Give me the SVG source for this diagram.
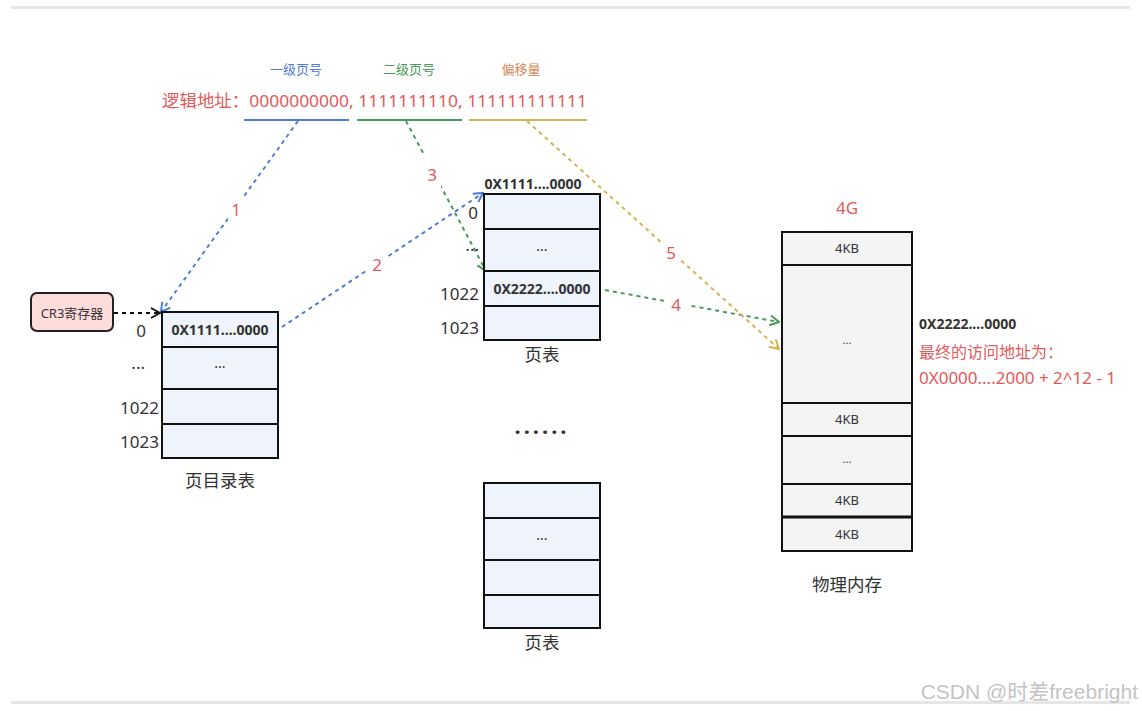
<svg xmlns="http://www.w3.org/2000/svg" width="1142" height="711" viewBox="0 0 1142 711">
<style>
text{font-family:"Noto Sans","Noto Sans CJK SC",sans-serif;fill:#333}
.cell{fill:#eef3fc;stroke:#111;stroke-width:2}
.mem{fill:#f4f4f4;stroke:#111;stroke-width:2}
.num{font-size:17px;text-anchor:end}
.cap{font-size:17.5px;text-anchor:middle}
.mid{text-anchor:middle}
.bold{font-weight:bold;font-size:14px}
.red{fill:#e05a5a}
.lbl{font-size:17px;text-anchor:middle;fill:#e05a5a}
.dash{fill:none;stroke-width:2;stroke-dasharray:4 4}
.bg{fill:#fff}
</style>
<defs>
<marker id="ab" viewBox="0 0 12 12" refX="11" refY="6" markerWidth="12" markerHeight="12" markerUnits="userSpaceOnUse" orient="auto"><path d="M2,1 L11,6 L2,11" fill="none" stroke="#4f7bd6" stroke-width="2"/></marker>
<marker id="ag" viewBox="0 0 12 12" refX="11" refY="6" markerWidth="12" markerHeight="12" markerUnits="userSpaceOnUse" orient="auto"><path d="M2,1 L11,6 L2,11" fill="none" stroke="#4a9a5c" stroke-width="2"/></marker>
<marker id="ay" viewBox="0 0 12 12" refX="11" refY="6" markerWidth="12" markerHeight="12" markerUnits="userSpaceOnUse" orient="auto"><path d="M2,1 L11,6 L2,11" fill="none" stroke="#d9b155" stroke-width="2"/></marker>
<marker id="ak" viewBox="0 0 12 12" refX="11" refY="6" markerWidth="12" markerHeight="12" markerUnits="userSpaceOnUse" orient="auto"><path d="M2,1 L11,6 L2,11" fill="none" stroke="#111" stroke-width="2"/></marker>
</defs>
<rect width="1142" height="711" fill="#fff"/>
<rect x="11" y="6" width="1119" height="3" fill="#e6e6e6"/>
<rect x="11" y="701" width="1119" height="3" fill="#e6e6e6"/>

<g id="logical-address">
<text x="296" y="74" class="mid" font-size="13" style="fill:#4f7bd6">一级页号</text>
<text x="409" y="74" class="mid" font-size="13" style="fill:#4a9a5c">二级页号</text>
<text x="521" y="74" class="mid" font-size="13" style="fill:#d0895a">偏移量</text>
<text x="162" y="107" font-size="17" class="red" textLength="425" lengthAdjust="spacingAndGlyphs">逻辑地址：0000000000, 1111111110, 111111111111</text>
<line x1="244" y1="120" x2="349" y2="120" stroke="#4f7bd6" stroke-width="2"/>
<line x1="357" y1="120" x2="462" y2="120" stroke="#4a9a5c" stroke-width="2"/>
<line x1="469" y1="120" x2="587" y2="120" stroke="#d9b155" stroke-width="2"/>
</g>

<g id="connectors">
<line class="dash" x1="298" y1="121" x2="161" y2="312" stroke="#4f7bd6" marker-end="url(#ab)"/>
<line class="dash" x1="282" y1="327" x2="483" y2="193" stroke="#4f7bd6" marker-end="url(#ab)"/>
<line class="dash" x1="406" y1="121" x2="486" y2="271" stroke="#4a9a5c" marker-end="url(#ag)"/>
<line class="dash" x1="605" y1="290" x2="779" y2="322" stroke="#4a9a5c" marker-end="url(#ag)"/>
<line class="dash" x1="527" y1="121" x2="779" y2="349" stroke="#d9b155" marker-end="url(#ay)"/>
<line class="dash" x1="114" y1="313" x2="160" y2="313" stroke="#111" marker-end="url(#ak)"/>
<rect class="bg" x="228" y="193" width="16" height="34"/>
<text class="lbl" x="236" y="216">1</text>
<rect class="bg" x="367" y="248" width="20" height="30"/>
<text class="lbl" x="377" y="271">2</text>
<rect class="bg" x="424" y="156" width="17" height="34"/>
<text class="lbl" x="432" y="181">3</text>
<rect class="bg" x="664" y="293" width="24" height="22"/>
<text class="lbl" x="676" y="311">4</text>
<rect class="bg" x="662" y="238" width="18" height="30"/>
<text class="lbl" x="671" y="259">5</text>
</g>

<g id="cr3">
<rect x="31" y="293" width="82" height="38" rx="6" fill="#ffdcdc" stroke="#222" stroke-width="2"/>
<text x="72" y="318" class="mid" font-size="13">CR3寄存器</text>
</g>

<g id="page-directory">
<rect class="cell" x="162" y="312" width="116" height="35"/>
<rect class="cell" x="162" y="347" width="116" height="42"/>
<rect class="cell" x="162" y="389" width="116" height="35"/>
<rect class="cell" x="162" y="424" width="116" height="34"/>
<text x="220" y="335" class="mid bold">0X1111....0000</text>
<text x="220" y="368" class="mid" font-size="14">...</text>
<text x="146" y="337" class="num">0</text>
<text x="145" y="369" class="num" font-size="11">...</text>
<text x="159" y="414" class="num">1022</text>
<text x="159" y="448" class="num">1023</text>
<text x="220" y="487" class="cap">页目录表</text>
</g>

<g id="page-table-1">
<text x="533" y="189" class="mid bold">0X1111....0000</text>
<rect class="cell" x="484" y="194" width="116" height="35"/>
<rect class="cell" x="484" y="229" width="116" height="42"/>
<rect class="cell" x="484" y="271" width="116" height="35"/>
<rect class="cell" x="484" y="306" width="116" height="34"/>
<text x="542" y="251" class="mid" font-size="14">...</text>
<text x="542" y="294" class="mid bold">0X2222....0000</text>
<text x="478" y="219" class="num">0</text>
<text x="479" y="251" class="num" font-size="11">...</text>
<text x="479" y="300" class="num">1022</text>
<text x="479" y="334" class="num">1023</text>
<text x="542" y="361" class="cap">页表</text>
</g>

<text x="542" y="440" class="mid" font-size="22" font-weight="bold" letter-spacing="3">······</text>

<g id="page-table-2">
<rect class="cell" x="484" y="483" width="116" height="35"/>
<rect class="cell" x="484" y="518" width="116" height="42"/>
<rect class="cell" x="484" y="560" width="116" height="35"/>
<rect class="cell" x="484" y="595" width="116" height="33"/>
<text x="542" y="540" class="mid" font-size="14">...</text>
<text x="542" y="649" class="cap">页表</text>
</g>

<g id="physical-memory">
<text x="847" y="214" class="mid red" font-size="17">4G</text>
<rect class="mem" x="782" y="232" width="130" height="33"/>
<rect class="mem" x="782" y="265" width="130" height="138"/>
<rect class="mem" x="782" y="403" width="130" height="33"/>
<rect class="mem" x="782" y="436" width="130" height="48"/>
<rect class="mem" x="782" y="484" width="130" height="33"/>
<rect class="mem" x="782" y="517" width="130" height="34"/>
<line x1="782" y1="517" x2="912" y2="517" stroke="#111" stroke-width="3"/>
<text x="847" y="253" class="mid" font-size="13">4KB</text>
<text x="847" y="344" class="mid" font-size="11">...</text>
<text x="847" y="424" class="mid" font-size="13">4KB</text>
<text x="847" y="463" class="mid" font-size="11">...</text>
<text x="847" y="505" class="mid" font-size="13">4KB</text>
<text x="847" y="539" class="mid" font-size="13">4KB</text>
<text x="847" y="591" class="cap">物理内存</text>
<text x="919" y="329" class="bold">0X2222....0000</text>
<text x="919" y="358" class="red" font-size="16">最终的访问地址为：</text>
<text x="919" y="384" class="red" font-size="16" textLength="197" lengthAdjust="spacingAndGlyphs">0X0000....2000 + 2^12 - 1</text>
</g>

<text x="1138" y="699" text-anchor="end" font-size="21" style="fill:#c4c4c4;font-family:'Liberation Sans','Noto Sans CJK SC',sans-serif">CSDN @时差freebright</text>
</svg>
